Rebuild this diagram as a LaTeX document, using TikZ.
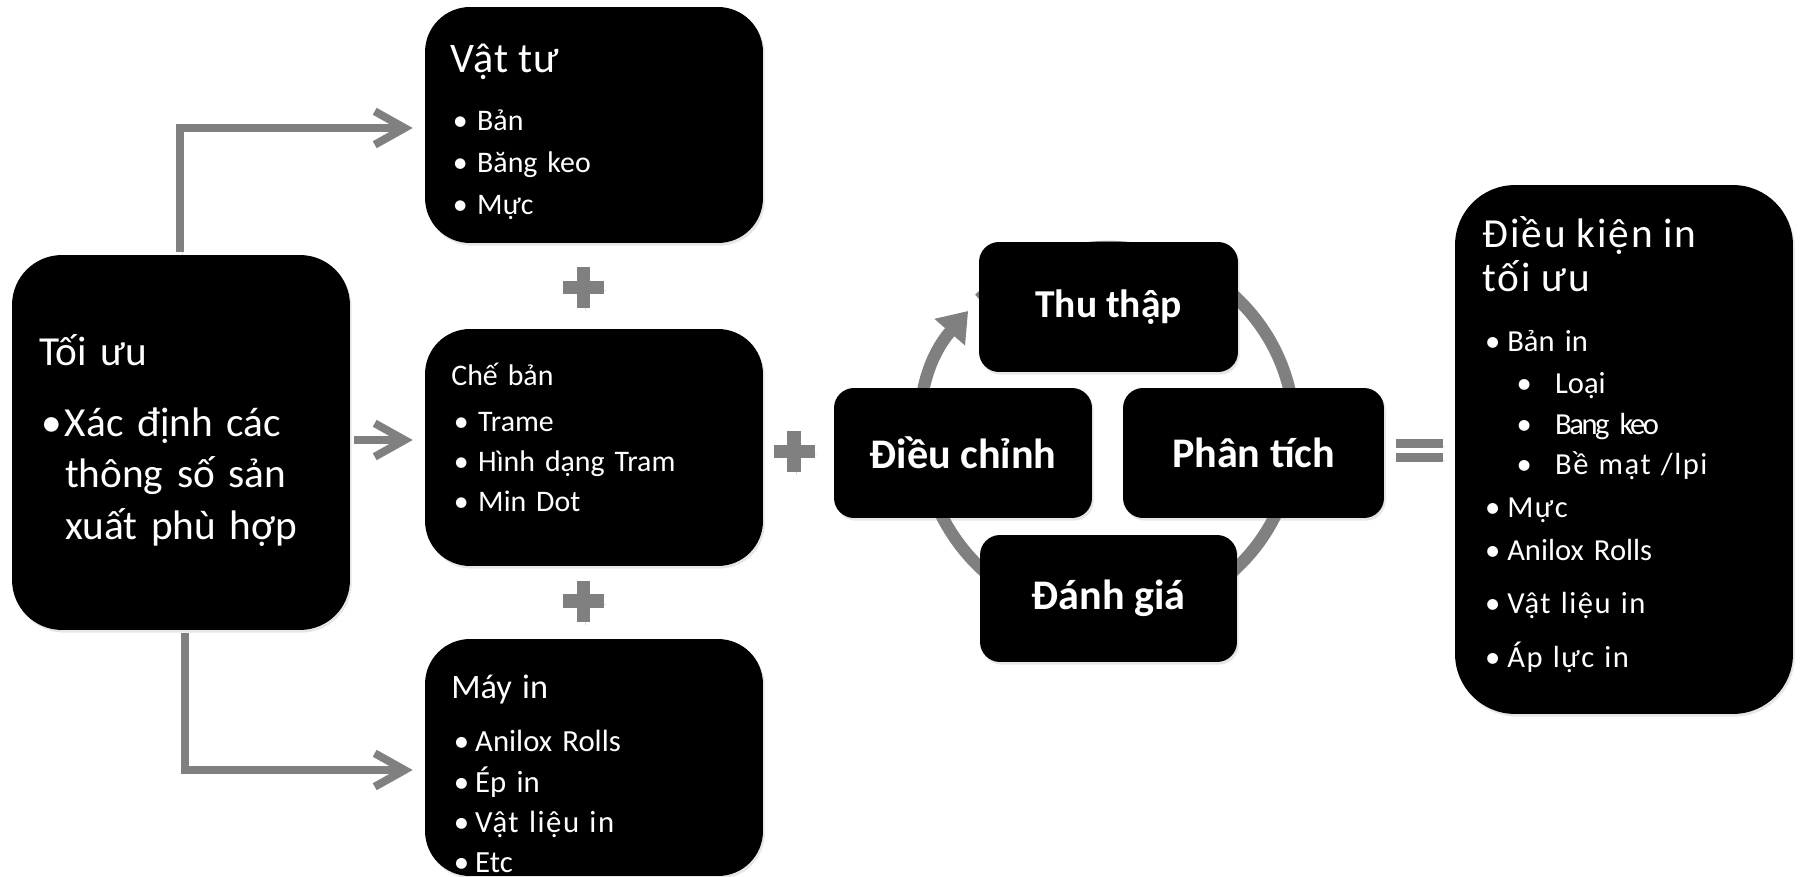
\documentclass[tikz,border=0pt]{standalone}
\usepackage{fontspec}
\setmainfont{Carlito}
\usetikzlibrary{arrows.meta,shadows}

\definecolor{arrowgray}{RGB}{128,128,128}
% bullet of a list line, #1 = indent of the text
\newcommand\bul[1][15.3pt]{\makebox[#1][l]{\hspace{1.5pt}•}}
\newcommand\wide[1]{{\addfontfeature{LetterSpace=5}#1}}

\begin{document}
\begin{tikzpicture}[x=0.02cm,y=0.02cm,
  darkbox/.style={fill=black, rounded corners=#1, inner sep=0pt,
    drop shadow={opacity=0.2, shadow xshift=1pt, shadow yshift=-1.5pt}},
  darkbox/.default=0.9cm,
  boxtext/.style={text=white, anchor=north west, inner sep=0pt, text width=6cm, align=left,
    execute at begin node={\lineskiplimit=-100pt\parindent=0pt}},
  cyclebox/.style={darkbox=0.4cm, minimum width=5.18cm, minimum height=2.6cm, text=white,
    font=\fontsize{24}{28}\selectfont\bfseries},
  flow/.style={draw=arrowgray, line width=4.5pt, -{Straight Barb[length=17pt,width=19pt]},
    preaction={draw=black, opacity=0.12, transform canvas={shift={(1.2pt,-1.8pt)}}}},
  sign/.style={draw=arrowgray, line width=7.6pt,
    preaction={draw=black, opacity=0.12, transform canvas={shift={(1.2pt,-1.8pt)}}}},
  ring/.style={draw=arrowgray, line width=7pt}]

\useasboundingbox (0,0) rectangle (1801,876);

% cycle ring behind the four boxes
\coordinate (hub) at (1108.5,443);
\draw[ring, -{Triangle[length=16pt,width=22pt]}] (hub) ++(134:186) arc[start angle=134, end angle=-221, radius=186];

% boxes
\node[darkbox=1cm, minimum width=6.76cm, minimum height=7.5cm] (toiuu) at (181,433.5) {};
\node[darkbox, minimum width=6.76cm, minimum height=4.72cm] (vattu) at (594,751) {};
\node[darkbox, minimum width=6.76cm, minimum height=4.74cm] (cheban) at (594,428.5) {};
\node[darkbox, minimum width=6.76cm, minimum height=4.74cm] (mayin) at (594,118.5) {};
\node[darkbox=1.2cm, minimum width=6.76cm, minimum height=10.58cm] (dieukien) at (1624,426.5) {};

\node[cyclebox, font=\fontsize{22.5}{27}\selectfont\bfseries] (thuthap) at (1108.5,569) {Thu thập};
\node[cyclebox, minimum width=5.16cm] (dieuchinh) at (963,423) {Điều chỉnh};
\node[cyclebox, minimum width=5.22cm] (phantich) at (1253.5,423) {Phân tích};
\node[cyclebox, minimum width=5.14cm, minimum height=2.54cm] (danhgia) at (1108.5,277.5) {Đánh giá};

% box texts
\node[boxtext, font=\fontsize{23.5}{29.3}\selectfont] (toiuutxt) at (39,561.8)
  {\rule{0pt}{28.8pt}Tối ưu\\[11.3pt]\bul[14.6pt]Xác định các\\\hspace*{14.6pt}thông số sản\\\hspace*{14.6pt}xuất phù hợp};
\node[boxtext, font=\fontsize{17}{24.1}\selectfont] (vattutxt) at (450,851.6)
  {\rule{0pt}{27pt}{\fontsize{24}{27}\selectfont\addfontfeature{LetterSpace=3}Vật tư}\\[8.9pt]\bul Bản\\\bul Băng keo\\\bul Mực};
\node[boxtext, font=\fontsize{17}{22.7}\selectfont] (chebantxt) at (451,527)
  {\rule{0pt}{20.4pt}Chế bản\\[3.9pt]\bul Trame\\\bul Hình dạng Tram\\\bul Min Dot};
\node[boxtext, font=\fontsize{17.5}{22.9}\selectfont] (mayintxt) at (451,219.3)
  {\rule{0pt}{23.4pt}{\fontsize{19.5}{23}\selectfont Máy in}\\[7.7pt]\bul[13.6pt]Anilox Rolls\\\bul[13.6pt]Ép in\\\bul[13.6pt]\wide{Vật liệu in}\\\bul[13.6pt]Etc};
\node[boxtext, font=\fontsize{17.4}{23.8}\selectfont] (dieukientxt) at (1482,678.7)
  {\rule{0pt}{28.2pt}{\fontsize{23.5}{25}\selectfont\addfontfeature{LetterSpace=5}Điều kiện in\\[1.7pt]tối ưu}\\[10pt]%
   \bul[14.2pt]Bản in\\[0.3pt]%
   \hspace*{18pt}\bul[23.4pt]Loại\\[-0.4pt]%
   \hspace*{18pt}\bul[23.4pt]{\addfontfeature{LetterSpace=-8}Bang keo}\\[-1pt]%
   \hspace*{18pt}\bul[23.4pt]\wide{Bề mạt /lpi}\\[0.3pt]%
   \bul[14.2pt]\wide{Mực}\\[0.9pt]%
   \bul[14.2pt]Anilox Rolls\\[6.1pt]%
   \bul[14.2pt]\wide{Vật liệu in}\\[7.4pt]%
   \bul[14.2pt]\wide{Áp lực in}};

% connectors
\coordinate (midstart) at ([yshift=0.05cm]toiuu.east);
\draw[flow, shorten <=0.06cm, shorten >=0.24cm] ([xshift=-0.02cm]toiuu.north) |- ([yshift=-0.06cm]vattu.west);
\draw[flow, shorten <=0.08cm, shorten >=0.24cm] (midstart) -- (midstart -| cheban.west);
\draw[flow, shorten <=0.06cm, shorten >=0.24cm] ([xshift=0.08cm]toiuu.south) |- ([yshift=-0.25cm]mayin.west);

% plus and equals signs
\draw[sign] (583.5,588.5) +(-20.5,0) -- +(20.5,0) +(0,-20.5) -- +(0,20.5);
\draw[sign] (583.5,275) +(-20.5,0) -- +(20.5,0) +(0,-20.5) -- +(0,20.5);
\draw[sign] (794,424.5) +(-20.5,0) -- +(20.5,0) +(0,-20.5) -- +(0,20.5);
\draw[sign, line width=5.1pt] (1419.5,432.7) +(-23.5,0) -- +(23.5,0) (1419.5,418.5) +(-23.5,0) -- +(23.5,0);

\end{tikzpicture}
\end{document}
